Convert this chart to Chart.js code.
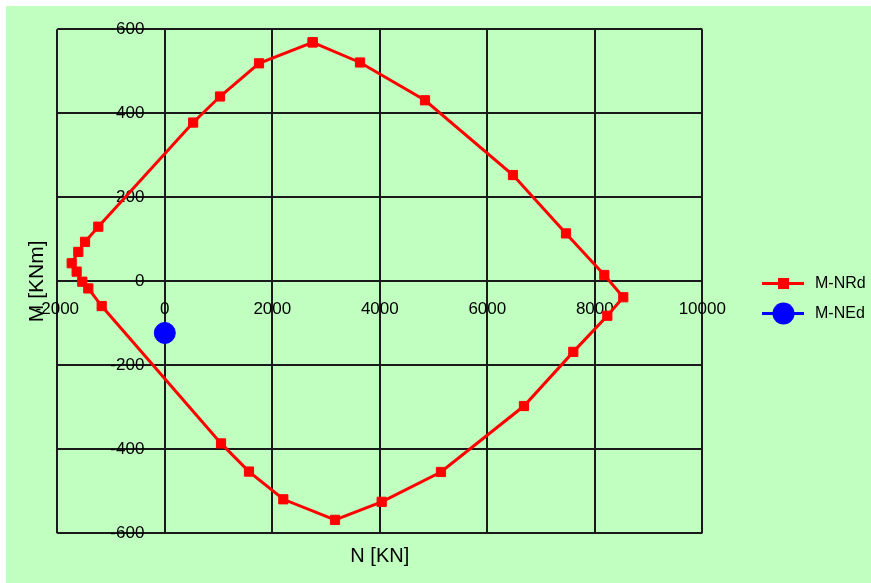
<!DOCTYPE html>
<html>
<head>
<meta charset="utf-8">
<script src="https://cdn.jsdelivr.net/npm/chart.js@4.4.0/dist/chart.umd.min.js"></script>
<style>
  body { margin: 0; background: #fff; }
  #wrap { position: absolute; left: 6px; top: 6px; width: 865px; height: 577px; background: #c0ffc0; }
</style>
</head>
<body>
<div id="wrap"><canvas id="grafico" width="865" height="577"></canvas></div>
<script>
// diagrama de interaccion M-N
const nrdN = [2751, 3632, 4841, 6478, 7464, 8177, 8530, 8233, 7600, 6682, 5138, 4035, 3167, 2205, 1566, 1046, -1174, -1423, -1535, -1640, -1732, -1609, -1484, -1237, 528, 1027, 1753, 2751];
const nrdM = [569, 521, 431, 253, 114, 15, -38, -82, -168, -297, -454, -525, -568, -519, -453, -386, -59, -17, -1, 23, 43, 70, 94, 130, 378, 440, 519, 569];
const nedN = [0];
const nedM = [-123];
const xTicks = [-2000, 0, 2000, 4000, 6000, 8000, 10000];
const yTicks = [-600, -400, -200, 0, 200, 400, 600];
const seriesNames = ['M-NRd', 'M-NEd'];
const xTitle = 'N [KN]';
const yTitle = 'M [KNm]';

const FONT = '"Liberation Sans", Arial, sans-serif';

// titulos de ejes y leyenda dibujados a mano
const extras = {
    id: 'extras',
    afterDraw(chart) {
        const ctx = chart.ctx;
        const a = chart.chartArea;
        ctx.save();
        ctx.fillStyle = '#000';
        ctx.font = '20px ' + FONT;
        ctx.textAlign = 'center';
        ctx.textBaseline = 'middle';
        ctx.fillText(xTitle, (a.left + a.right) / 2, 550);
        ctx.font = '21px ' + FONT;
        ctx.translate(31.5, (a.top + a.bottom) / 2);
        ctx.rotate(-Math.PI / 2);
        ctx.fillText(yTitle, 0, 0);
        ctx.restore();

        ctx.save();
        ctx.font = '16px ' + FONT;
        ctx.textBaseline = 'middle';
        ctx.textAlign = 'left';
        chart.data.datasets.forEach((ds, i) => {
            const y = 277.5 + i * 30;
            ctx.strokeStyle = ds.borderColor;
            ctx.lineWidth = 3;
            ctx.beginPath();
            ctx.moveTo(756, y);
            ctx.lineTo(798, y);
            ctx.stroke();
            ctx.fillStyle = ds.pointBackgroundColor;
            if (i === 0) {
                ctx.fillRect(772, y - 5.5, 11, 11);
            } else {
                ctx.beginPath();
                ctx.arc(777.5, y, 11, 0, Math.PI * 2);
                ctx.fill();
            }
            ctx.fillStyle = '#000';
            ctx.fillText(seriesNames[i], 809, y);
        });
        ctx.restore();
    }
};

const ctx = document.getElementById('grafico').getContext('2d');
new Chart(ctx, {
    type: 'scatter',
    data: {
        datasets: [{
            label: seriesNames[0],
            data: nrdN.map((n, i) => ({ x: n, y: nrdM[i] })),
            showLine: true,
            borderColor: '#ff0000',
            borderWidth: 3,
            pointStyle: 'rect',
            pointRadius: 6.5,
            pointBorderWidth: 1,
            pointBackgroundColor: '#ff0000',
            pointBorderColor: '#ff0000'
        }, {
            label: seriesNames[1],
            data: nedN.map((n, i) => ({ x: n, y: nedM[i] })),
            borderColor: '#0000ff',
            pointStyle: 'circle',
            pointRadius: 10.5,
            pointBorderWidth: 1,
            pointBackgroundColor: '#0000ff',
            pointBorderColor: '#0000ff'
        }]
    },
    options: {
        responsive: false,
        animation: false,
        devicePixelRatio: 1,
        layout: { padding: { left: 51.3, top: 23.3, right: 168.7, bottom: 49.7 } },
        plugins: {
            legend: { display: false },
            tooltip: { enabled: false }
        },
        scales: {
            x: {
                type: 'linear',
                position: { y: 0 },
                min: -2000,
                max: 10000,
                afterBuildTicks: s => { s.ticks = xTicks.map(v => ({ value: v })); },
                ticks: {
                    color: '#000',
                    font: { size: 17, family: FONT },
                    padding: 18,
                    callback: v => String(v)
                },
                grid: { color: '#1a1a1a', lineWidth: 2, drawTicks: false },
                border: { display: false }
            },
            y: {
                type: 'linear',
                position: { x: 0 },
                min: -600,
                max: 600,
                afterBuildTicks: s => { s.ticks = yTicks.map(v => ({ value: v })); },
                ticks: {
                    color: '#000',
                    font: { size: 17, family: FONT },
                    padding: 0,
                    // el eje centrado no deja hueco, se separa con espacios
                    callback: v => String(v) + '\u2002\u2002\u2009'
                },
                grid: { color: '#1a1a1a', lineWidth: 2, drawTicks: false },
                border: { display: false }
            }
        }
    },
    plugins: [extras]
});
</script>
</body>
</html>
